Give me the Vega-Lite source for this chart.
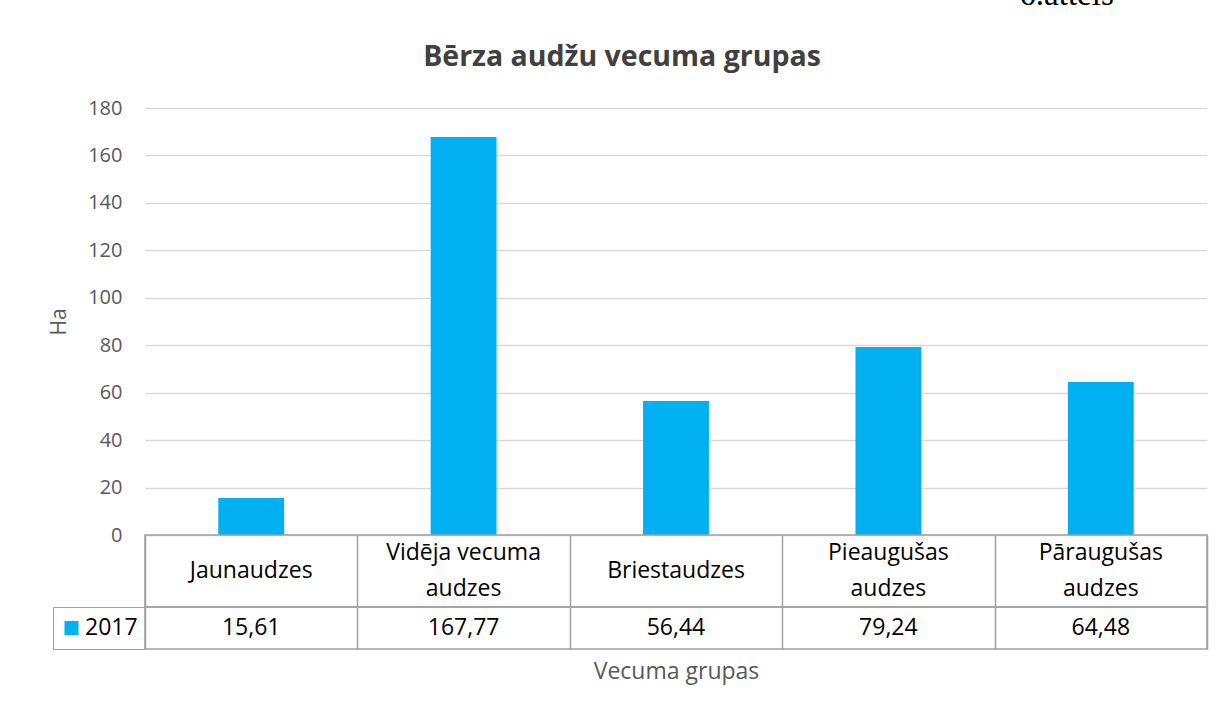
{
  "$schema": "https://vega.github.io/schema/vega-lite/v6.json",
  "autosize": {"type": "none"},
  "padding": {"left": 145, "top": 108, "right": 1081, "bottom": 603},
  "background": "white",
  "config": {
    "font": "Open Sans",
    "view": {"stroke": "#A0A0A0", "strokeWidth": 1.5},
    "locale": {"number": {"decimal": ",", "thousands": " ", "grouping": [3], "currency": ["", " €"]}}
  },
  "title": {"text": "6.attēls", "anchor": "end", "font": "Liberation Serif", "fontSize": 33, "fontWeight": "normal", "color": "black", "dx": -94, "offset": 31},
  "spacing": 0,
  "bounds": "flush",
  "resolve": {"scale": {"x": "independent", "color": "independent"}, "legend": {"color": "independent"}},
  "datasets": {
    "main": [
      {"grupa": "Jaunaudzes", "ha": 15.61, "series": "2017"},
      {"grupa": "Vidēja vecuma audzes", "ha": 167.77, "series": "2017"},
      {"grupa": "Briestaudzes", "ha": 56.44, "series": "2017"},
      {"grupa": "Pieaugušas audzes", "ha": 79.24, "series": "2017"},
      {"grupa": "Pāraugušas audzes", "ha": 64.48, "series": "2017"}
    ],
    "header": [
      {"grupa": "Jaunaudzes", "pos": "m", "text": "Jaunaudzes"},
      {"grupa": "Vidēja vecuma audzes", "pos": "a", "text": "Vidēja vecuma"},
      {"grupa": "Vidēja vecuma audzes", "pos": "b", "text": "audzes"},
      {"grupa": "Briestaudzes", "pos": "m", "text": "Briestaudzes"},
      {"grupa": "Pieaugušas audzes", "pos": "a", "text": "Pieaugušas"},
      {"grupa": "Pieaugušas audzes", "pos": "b", "text": "audzes"},
      {"grupa": "Pāraugušas audzes", "pos": "a", "text": "Pāraugušas"},
      {"grupa": "Pāraugušas audzes", "pos": "b", "text": "audzes"}
    ]
  },
  "vconcat": [
    {
      "width": 1062,
      "height": 427,
      "view": {"stroke": null},
      "title": {"text": "Bērza audžu vecuma grupas", "fontSize": 28.5, "fontWeight": "bold", "color": "#404040", "anchor": "middle", "dx": -54, "offset": 27},
      "data": {"name": "main"},
      "mark": {"type": "bar", "color": "#00B0F0"},
      "encoding": {
        "x": {"field": "grupa", "type": "nominal", "sort": null, "scale": {"paddingInner": 0.69, "paddingOuter": 0.345}, "axis": null},
        "y": {
          "field": "ha", "type": "quantitative",
          "scale": {"domain": [0, 180], "nice": false},
          "axis": {
            "values": [0, 20, 40, 60, 80, 100, 120, 140, 160, 180],
            "grid": true, "gridColor": "#D9D9D9", "gridWidth": 1.3,
            "domain": false, "ticks": false, "tickSize": 0, "labelPadding": 23,
            "labelFontSize": 20, "labelColor": "#595959", "labelFont": "Open Sans",
            "title": "Ha", "titleFontSize": 21, "titleFontWeight": "normal", "titleColor": "#595959", "titleFont": "Open Sans", "titlePadding": 18
          }
        }
      }
    },
    {
      "width": 1062,
      "height": 72,
      "data": {"name": "header"},
      "mark": {"type": "text", "fontSize": 23, "color": "black", "font": "Open Sans"},
      "encoding": {
        "x": {"field": "grupa", "type": "nominal", "sort": null, "scale": {"paddingInner": 0, "paddingOuter": 0},
          "axis": {"orient": "top", "grid": true, "tickBand": "extent", "gridColor": "#A0A0A0", "gridWidth": 1.5, "labels": false, "ticks": false, "domain": false, "title": null}},
        "y": {"field": "pos", "type": "ordinal", "scale": {"type": "point", "domain": ["a", "m", "b"], "padding": 1.25}, "axis": null},
        "text": {"field": "text", "type": "nominal"}
      }
    },
    {
      "width": 1062,
      "height": 42,
      "data": {"name": "main"},
      "encoding": {
        "x": {"field": "grupa", "type": "nominal", "sort": null, "scale": {"paddingInner": 0, "paddingOuter": 0},
          "axis": {"orient": "bottom", "grid": true, "tickBand": "extent", "gridColor": "#A0A0A0", "gridWidth": 1.5, "labels": false, "ticks": false, "domain": false,
            "title": "Vecuma grupas", "titleFontSize": 23, "titleFontWeight": "normal", "titleColor": "#595959", "titleFont": "Open Sans", "titlePadding": 11}}
      },
      "layer": [
        {
          "mark": {"type": "text", "fontSize": 23, "color": "black", "font": "Open Sans"},
          "encoding": {"text": {"field": "ha", "type": "quantitative", "format": ".2f"}}
        },
        {
          "mark": {"type": "square", "opacity": 0, "size": 196},
          "encoding": {
            "color": {
              "field": "series", "type": "nominal",
              "scale": {"range": ["#00B0F0"]},
              "legend": {"orient": "left", "offset": 0, "title": null, "padding": 7, "clipHeight": 28, "strokeColor": "#A0A0A0",
                "symbolType": "square", "symbolSize": 196, "symbolOpacity": 1, "symbolStrokeWidth": 0,
                "labelFontSize": 23, "labelColor": "black", "labelFont": "Open Sans", "labelOffset": 2}
            }
          }
        }
      ]
    }
  ]
}
